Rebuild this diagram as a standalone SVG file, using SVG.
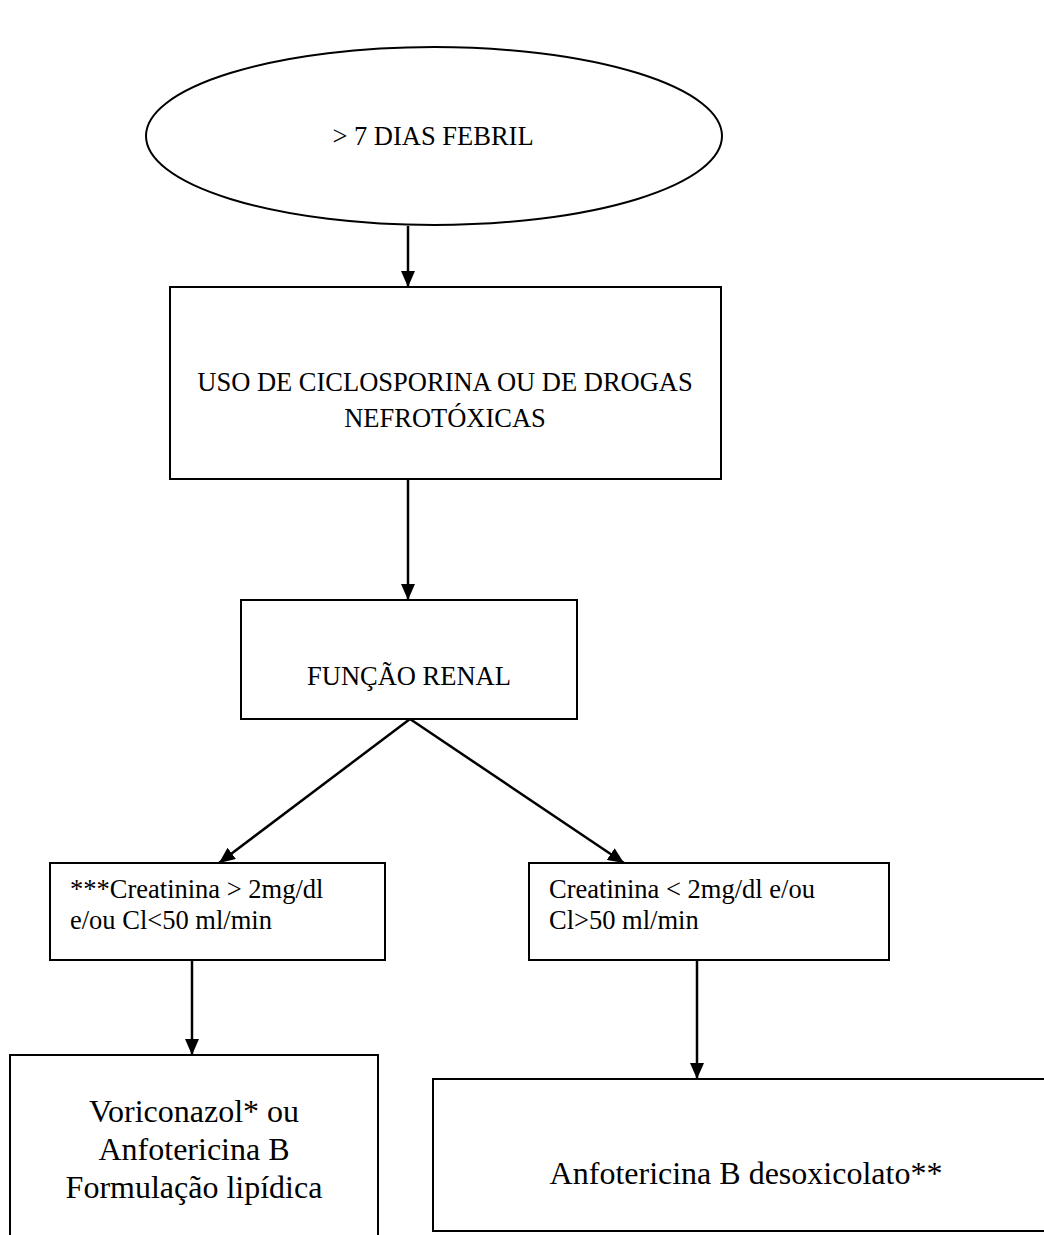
<svg xmlns="http://www.w3.org/2000/svg" width="1044" height="1235" viewBox="0 0 1044 1235">
<style>
.n{fill:#fff;stroke:#000;stroke-width:2}
.t{font-family:"Liberation Serif","Times New Roman",serif;fill:#000}
.s{font-size:26.5px}
.b{font-size:32px}
.c{stroke:#000;stroke-width:2.5;fill:none;marker-end:url(#ah)}
</style>
<defs>
<marker id="ah" viewBox="0 0 16 14" refX="16" refY="7" markerWidth="16" markerHeight="14" markerUnits="userSpaceOnUse" orient="auto">
<path d="M0,0 L16,7 L0,14 Z" fill="#000"/>
</marker>
</defs>
<rect width="1044" height="1235" fill="#fff"/>
<g id="n1"><ellipse class="n" cx="434" cy="136" rx="288" ry="89"/><text class="t s" x="433" y="145" text-anchor="middle">&gt; 7 DIAS FEBRIL</text></g>
<g id="n2"><rect class="n" x="170" y="287" width="551" height="192"/><text class="t s" x="445" y="391" text-anchor="middle">USO DE CICLOSPORINA OU DE DROGAS</text><text class="t s" x="445" y="427" text-anchor="middle">NEFROTÓXICAS</text></g>
<g id="n3"><rect class="n" x="241" y="600" width="336" height="119"/><text class="t s" x="409" y="685" text-anchor="middle">FUNÇÃO RENAL</text></g>
<g id="n4"><rect class="n" x="50" y="863" width="335" height="97"/><text class="t s" x="70" y="898">***Creatinina &gt; 2mg/dl</text><text class="t s" x="70" y="929">e/ou Cl&lt;50 ml/min</text></g>
<g id="n5"><rect class="n" x="529" y="863" width="360" height="97"/><text class="t s" x="549" y="898">Creatinina &lt; 2mg/dl e/ou</text><text class="t s" x="549" y="929">Cl&gt;50 ml/min</text></g>
<g id="n6"><rect class="n" x="10" y="1055" width="368" height="200"/><text class="t b" x="194" y="1122" text-anchor="middle">Voriconazol* ou</text><text class="t b" x="194" y="1160" text-anchor="middle">Anfotericina B</text><text class="t b" x="194" y="1198" text-anchor="middle">Formulação lipídica</text></g>
<g id="n7"><rect class="n" x="433" y="1079" width="630" height="152"/><text class="t b" x="746" y="1184" text-anchor="middle">Anfotericina B desoxicolato**</text></g>
<g id="connectors">
<line class="c" x1="408" y1="226" x2="408" y2="287"/>
<line class="c" x1="408" y1="479" x2="408" y2="600"/>
<line class="c" x1="410" y1="719" x2="219" y2="863"/>
<line class="c" x1="410" y1="719" x2="624" y2="863"/>
<line class="c" x1="192" y1="960" x2="192" y2="1055"/>
<line class="c" x1="697" y1="960" x2="697" y2="1079"/>
</g>
</svg>
